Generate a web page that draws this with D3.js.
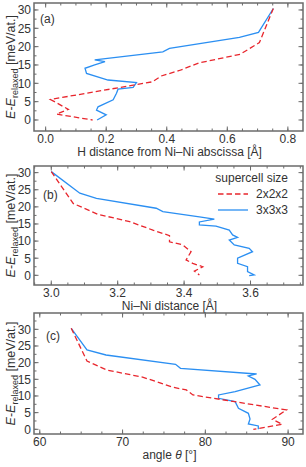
<!DOCTYPE html>
<html>
<head>
<meta charset="utf-8">
<script src="https://cdn.jsdelivr.net/npm/d3@7"></script>
<style>
  body { margin: 0; background: #fff; }
  svg { display: block; font-family: "Liberation Sans", Arial, sans-serif; }
</style>
</head>
<body>
<svg id="chart" width="306" height="467"></svg>
<script>
// panel (a): H distance from Ni-Ni abscissa vs energy, [x, E]
var hdist2 = [[0.752,30.4],[0.706,21.1],[0.642,17.9],[0.508,15.6],[0.442,13.5],[0.382,12.0],[0.352,10.4],[0.016,5.6],[0.075,2.9],[0.036,1.6],[0.155,0]];
var hdist3 = [[0.752,30.4],[0.703,23.9],[0.64,22.5],[0.409,19.5],[0.387,18.6],[0.162,16.4],[0.196,15.9],[0.162,15.0],[0.13,14.1],[0.135,12.7],[0.206,10.9],[0.3,10.2],[0.289,8.9],[0.239,8.4],[0.234,7.3],[0.223,5.5],[0.173,3.6],[0.168,2.7],[0.2,1.4],[0.17,0]];
// panel (b): Ni-Ni distance
var nini2 = [[3.0,30.3],[3.066,21.0],[3.141,17.8],[3.236,15.7],[3.306,13.2],[3.356,11.6],[3.356,9.8],[3.396,8.9],[3.421,6.9],[3.406,4.5],[3.426,3.5],[3.456,2.5],[3.431,1.2],[3.446,0.1]];
var nini3 = [[3.0,30.3],[3.086,24.0],[3.136,22.5],[3.316,19.6],[3.336,18.6],[3.446,17.1],[3.491,16.4],[3.446,15.6],[3.446,14.7],[3.496,14.4],[3.536,13.2],[3.546,11.8],[3.561,11.1],[3.536,10.3],[3.551,8.9],[3.596,7.9],[3.606,6.9],[3.561,5.0],[3.561,3.5],[3.591,2.5],[3.591,1.1],[3.611,0.1],[3.596,-0.1]];
// panel (c): angle theta
var theta2 = [[63.8,30.3],[65.7,20.5],[68.1,17.8],[72.5,15.6],[76.1,12.6],[77.7,11.8],[78.5,10.3],[89.8,5.8],[88.1,3.0],[89.3,1.5],[85.8,0]];
var theta3 = [[63.8,30.3],[65.7,23.8],[68.0,22.3],[76.4,19.5],[77.0,18.3],[86.2,16.6],[85.2,16.0],[86.0,15.0],[86.6,13.3],[83.6,11.3],[81.6,10.3],[81.6,9.3],[83.6,8.3],[84.0,6.3],[85.2,4.8],[85.4,3.1],[85.2,1.6],[86.4,1.0],[86.4,0]];

var xTicksA = [0, 0.2, 0.4, 0.6, 0.8];
var xTicksB = [3.0, 3.2, 3.4, 3.6];
var xTicksC = [60, 70, 80, 90];
var yTicks = [0, 5, 10, 15, 20, 25, 30];
var legendLabels = ["2x2x2", "3x3x3"];

var red = "#e8262d", blue = "#2b8ff2", frameCol = "#6b6b6b", textCol = "#333";
var fs = 12;

var svg = d3.select("#chart");
var left = 34, right = 303;

var panels = [
  {tag: "(a)", top: 3, bottom: 131, xd: [-0.0385, 0.85], yd: [-3.0, 31.9], ticks: xTicksA, minor: 0.05, fmt: ".1f",
   s2: hdist2, s3: hdist3, title: "H distance from Ni\u2013Ni abscissa [\u00c5]", tagX: 40, tagY: 23},
  {tag: "(b)", top: 166, bottom: 285, xd: [2.948, 3.758], yd: [-2.83, 31.94], ticks: xTicksB, minor: 0.05, fmt: ".1f",
   s2: nini2, s3: nini3, title: "Ni\u2013Ni distance [\u00c5]", tagX: 43, tagY: 199, legend: true},
  {tag: "(c)", top: 313, bottom: 434, xd: [59.3, 91.8], yd: [-1.41, 34.9], ticks: xTicksC, minor: 2.5, fmt: "d",
   s2: theta2, s3: theta3, title: "angle", tagX: 46, tagY: 340, theta: true}
];

panels.forEach(function(p) {
  var x = d3.scaleLinear().domain(p.xd).range([left, right]);
  var y = d3.scaleLinear().domain(p.yd).range([p.bottom, p.top]);
  var g = svg.append("g");

  var minorX = d3.range(Math.ceil(p.xd[0] / p.minor) * p.minor, p.xd[1], p.minor);
  var minorY = d3.range(0, p.yd[1], 2.5);

  // ticks on all four sides, pointing inwards
  function tickSet(vals, scale, len, orient) {
    g.selectAll(null).data(vals).enter().append("line")
      .attr("x1", function(d) { return orient == "x" ? scale(d) : (orient == "l" ? left : right); })
      .attr("x2", function(d) { return orient == "x" ? scale(d) : (orient == "l" ? left + len : right - len); })
      .attr("y1", function(d) { return orient == "x" ? p.bottom : scale(d); })
      .attr("y2", function(d) { return orient == "x" ? p.bottom - len : scale(d); })
      .attr("stroke", frameCol).attr("stroke-width", 1);
    if (orient == "x") {
      g.selectAll(null).data(vals).enter().append("line")
        .attr("x1", function(d) { return scale(d); }).attr("x2", function(d) { return scale(d); })
        .attr("y1", p.top).attr("y2", p.top + len)
        .attr("stroke", frameCol).attr("stroke-width", 1);
    }
  }
  tickSet(minorX, x, 2.5, "x");
  tickSet(p.ticks, x, 4.5, "x");
  tickSet(minorY, y, 2.5, "l");
  tickSet(minorY, y, 2.5, "r");
  tickSet(yTicks, y, 4.5, "l");
  tickSet(yTicks, y, 4.5, "r");

  g.append("rect").attr("x", left).attr("y", p.top)
    .attr("width", right - left).attr("height", p.bottom - p.top)
    .attr("fill", "none").attr("stroke", frameCol).attr("stroke-width", 1.5);

  // tick labels
  g.selectAll(null).data(p.ticks).enter().append("text")
    .attr("x", function(d) { return x(d); }).attr("y", p.bottom + 12)
    .attr("text-anchor", "middle").attr("font-size", fs).attr("fill", textCol)
    .text(d3.format(p.fmt));
  g.selectAll(null).data(yTicks).enter().append("text")
    .attr("x", left - 3).attr("y", function(d) { return y(d) + 4.3; })
    .attr("text-anchor", "end").attr("font-size", fs).attr("fill", textCol)
    .text(function(d) { return d; });

  // axis title
  var t = g.append("text").attr("x", (left + right) / 2 + 1).attr("y", p.bottom + 24.5)
    .attr("text-anchor", "middle").attr("font-size", fs).attr("fill", textCol);
  if (p.theta) {
    t.append("tspan").text("angle ");
    t.append("tspan").attr("font-style", "italic").text("\u03b8");
    t.append("tspan").text(" [\u00b0]");
  } else {
    t.text(p.title);
  }

  // y label
  var cy = (p.top + p.bottom) / 2;
  var yl = g.append("text").attr("transform", "translate(14.5," + cy + ") rotate(-90)")
    .attr("text-anchor", "middle").attr("font-size", 12.5).attr("fill", textCol);
  yl.append("tspan").attr("font-style", "italic").text("E");
  yl.append("tspan").text("-");
  yl.append("tspan").attr("font-style", "italic").text("E");
  yl.append("tspan").attr("font-size", 9).attr("dy", 3.5).text("relaxed");
  yl.append("tspan").attr("dy", -3.5).text(" [meV/at.]");

  g.append("text").attr("x", p.tagX).attr("y", p.tagY)
    .attr("font-size", fs).attr("fill", textCol).text(p.tag);

  var line = d3.line().x(function(d) { return x(d[0]); }).y(function(d) { return y(d[1]); });
  g.append("path").datum(p.s3).attr("d", line)
    .attr("fill", "none").attr("stroke", blue).attr("stroke-width", 1.3);
  g.append("path").datum(p.s2).attr("d", line)
    .attr("fill", "none").attr("stroke", red).attr("stroke-width", 1.3)
    .attr("stroke-dasharray", "5.5,3");

  if (p.legend) {
    g.append("text").attr("x", 288).attr("y", 182).attr("text-anchor", "end")
      .attr("font-size", fs).attr("fill", textCol).text("supercell size");
    legendLabels.forEach(function(lab, i) {
      var ly = 198 + i * 16;
      g.append("line").attr("x1", 218).attr("x2", 248).attr("y1", ly - 4).attr("y2", ly - 4)
        .attr("stroke", i == 0 ? red : blue).attr("stroke-width", 1.3)
        .attr("stroke-dasharray", i == 0 ? "5.5,3" : null);
      g.append("text").attr("x", 288).attr("y", ly).attr("text-anchor", "end")
        .attr("font-size", fs).attr("fill", textCol).text(lab);
    });
  }
});
</script>
</body>
</html>
